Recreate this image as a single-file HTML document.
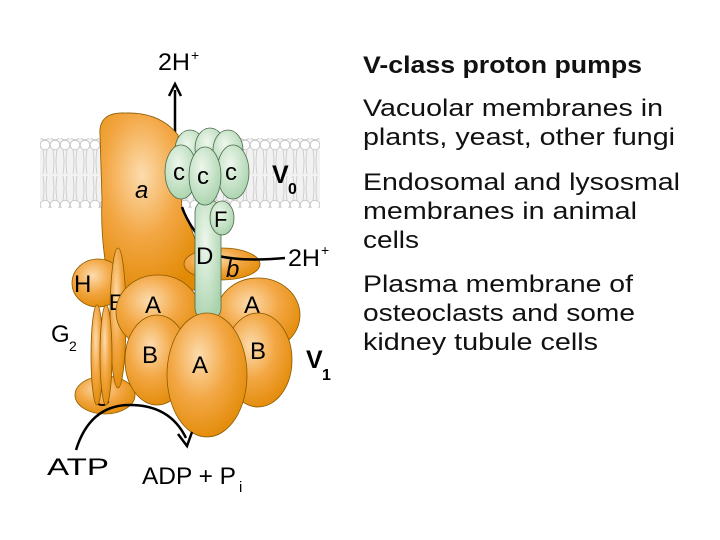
<!DOCTYPE html>
<html><head><style>
html,body{margin:0;padding:0;background:#fff;}
svg{display:block;}
text{font-family:"Liberation Sans",sans-serif;}
</style></head><body>
<svg width="720" height="540" viewBox="0 0 720 540" xmlns="http://www.w3.org/2000/svg">
<defs>
<radialGradient id="og" cx="0.4" cy="0.35" r="0.7">
<stop offset="0" stop-color="#fcdcae"/><stop offset="0.5" stop-color="#f3a744"/><stop offset="1" stop-color="#e28a05"/>
</radialGradient>
<radialGradient id="gg" cx="0.4" cy="0.35" r="0.7">
<stop offset="0" stop-color="#eef7ec"/><stop offset="1" stop-color="#a9d3ad"/>
</radialGradient>
<pattern id="mem" width="10" height="70" patternUnits="userSpaceOnUse">
<rect width="10" height="70" fill="#f2f2f2"/>
<circle cx="5" cy="5" r="4.8" fill="#fff" stroke="#c0c0c0" stroke-width="0.8"/>
<circle cx="5" cy="65" r="4.8" fill="#fff" stroke="#c0c0c0" stroke-width="0.8"/>
<path d="M3 10 q2 12 0 24 M7 10 q-2 12 0 24 M3 36 q2 12 0 24 M7 36 q-2 12 0 24" stroke="#c8c8c8" fill="none" stroke-width="0.8"/>
</pattern>
</defs>
<rect x="40" y="138" width="280" height="70" fill="url(#mem)"/>
<line x1="175" y1="140" x2="175" y2="90" stroke="#000" stroke-width="2.5"/>
<path d="M169 96 L175 84 L181 96" fill="none" stroke="#000" stroke-width="2.5"/>
<text x="158" y="70" font-size="24" textLength="32" lengthAdjust="spacingAndGlyphs">2H</text><text x="191" y="60" font-size="14">+</text>
<path d="M100 135 Q98 112 125 113 Q160 112 178 135 L182 210 Q200 240 205 290 L110 290 Q100 240 102 200 Z" fill="url(#og)" stroke="#8a5a00" stroke-width="0.8"/>
<text x="135" y="198" font-size="24" font-style="italic">a</text>
<ellipse cx="222" cy="264" rx="38" ry="16" fill="url(#og)" stroke="#8a5a00" stroke-width="0.8"/>
<text x="226" y="277" font-size="24" font-style="italic">b</text>
<path d="M182 207 Q190 230 215 255 Q240 262 285 258" fill="none" stroke="#000" stroke-width="2.5"/>
<text x="288" y="266" font-size="24" textLength="32" lengthAdjust="spacingAndGlyphs">2H</text><text x="321" y="255" font-size="14">+</text>
<ellipse cx="98" cy="283" rx="26" ry="24" fill="url(#og)" stroke="#8a5a00" stroke-width="0.8"/>
<text x="74" y="292" font-size="24">H</text>
<ellipse cx="105" cy="395" rx="30" ry="19" fill="url(#og)" stroke="#8a5a00" stroke-width="0.8"/>
<text x="93" y="406" font-size="24">C</text>
<ellipse cx="118" cy="318" rx="8" ry="70" fill="url(#og)" stroke="#8a5a00" stroke-width="0.8"/>
<text x="109" y="310" font-size="22">E</text>
<ellipse cx="97" cy="355" rx="6" ry="50" fill="url(#og)" stroke="#8a5a00" stroke-width="0.8"/>
<ellipse cx="106" cy="355" rx="6" ry="50" fill="url(#og)" stroke="#8a5a00" stroke-width="0.8"/>
<text x="51" y="342" font-size="24">G</text><text x="69" y="351" font-size="14">2</text>
<ellipse cx="158" cy="312" rx="42" ry="37" fill="url(#og)" stroke="#8a5a00" stroke-width="0.8"/>
<ellipse cx="258" cy="315" rx="42" ry="37" fill="url(#og)" stroke="#8a5a00" stroke-width="0.8"/>
<text x="145" y="313" font-size="24">A</text>
<text x="244" y="313" font-size="24">A</text>
<rect x="195" y="200" width="26" height="120" rx="12" fill="url(#gg)" stroke="#4a6a4a" stroke-width="0.8"/>
<text x="196" y="264" font-size="24">D</text>
<ellipse cx="157" cy="360" rx="32" ry="45" fill="url(#og)" stroke="#8a5a00" stroke-width="0.8"/>
<ellipse cx="258" cy="360" rx="34" ry="47" fill="url(#og)" stroke="#8a5a00" stroke-width="0.8"/>
<text x="142" y="363" font-size="24">B</text>
<text x="250" y="359" font-size="24">B</text>
<ellipse cx="207" cy="375" rx="40" ry="62" fill="url(#og)" stroke="#8a5a00" stroke-width="0.8"/>
<text x="192" y="373" font-size="24">A</text>
<text x="306" y="368" font-size="25" font-weight="bold">V</text><text x="322" y="380" font-size="16" font-weight="bold">1</text>
<ellipse cx="190" cy="150" rx="15" ry="20" fill="url(#gg)" stroke="#4a6a4a" stroke-width="0.8"/>
<ellipse cx="210" cy="148" rx="15" ry="20" fill="url(#gg)" stroke="#4a6a4a" stroke-width="0.8"/>
<ellipse cx="228" cy="150" rx="15" ry="20" fill="url(#gg)" stroke="#4a6a4a" stroke-width="0.8"/>
<ellipse cx="222" cy="218" rx="12" ry="17" fill="url(#gg)" stroke="#4a6a4a" stroke-width="0.8"/>
<text x="214" y="227" font-size="22">F</text>
<ellipse cx="181" cy="172" rx="16" ry="27" fill="url(#gg)" stroke="#4a6a4a" stroke-width="0.8"/>
<ellipse cx="233" cy="172" rx="16" ry="27" fill="url(#gg)" stroke="#4a6a4a" stroke-width="0.8"/>
<ellipse cx="205" cy="176" rx="16" ry="29" fill="url(#gg)" stroke="#4a6a4a" stroke-width="0.8"/>
<text x="173" y="180" font-size="24">c</text><text x="197" y="184" font-size="24">c</text><text x="225" y="180" font-size="24">c</text>
<text x="272" y="183" font-size="25" font-weight="bold">V</text><text x="288" y="194" font-size="16" font-weight="bold">0</text>
<path d="M76 450 Q90 405 130 405 Q170 405 186 438" fill="none" stroke="#000" stroke-width="2.5"/>
<path d="M178 434 L187 446 L192 432" fill="none" stroke="#000" stroke-width="2.5"/>
<text x="47" y="475" font-size="24" textLength="62" lengthAdjust="spacingAndGlyphs">ATP</text>
<text x="142" y="484" font-size="24" textLength="94" lengthAdjust="spacingAndGlyphs">ADP + P</text><text x="239" y="492" font-size="15">i</text>
<g font-size="24" fill="#111">
<text x="363" y="73" font-weight="bold" textLength="279" lengthAdjust="spacingAndGlyphs">V-class proton pumps</text>
<text x="363" y="116" textLength="300" lengthAdjust="spacingAndGlyphs">Vacuolar membranes in</text>
<text x="363" y="145" textLength="312" lengthAdjust="spacingAndGlyphs">plants, yeast, other fungi</text>
<text x="363" y="190" textLength="317" lengthAdjust="spacingAndGlyphs">Endosomal and lysosmal</text>
<text x="363" y="219" textLength="274" lengthAdjust="spacingAndGlyphs">membranes in animal</text>
<text x="363" y="248" textLength="56" lengthAdjust="spacingAndGlyphs">cells</text>
<text x="363" y="292" textLength="270" lengthAdjust="spacingAndGlyphs">Plasma membrane of</text>
<text x="363" y="321" textLength="272" lengthAdjust="spacingAndGlyphs">osteoclasts and some</text>
<text x="363" y="350" textLength="235" lengthAdjust="spacingAndGlyphs">kidney tubule cells</text>
</g>
</svg>
</body></html>
